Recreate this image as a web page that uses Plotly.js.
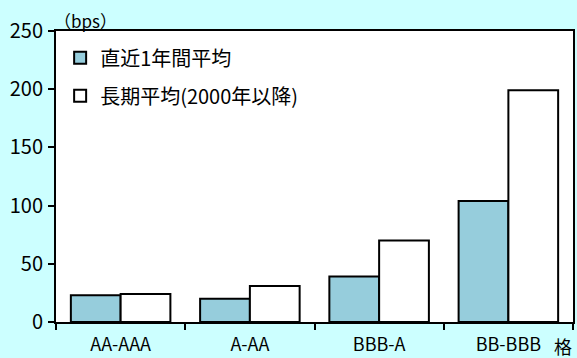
<!DOCTYPE html>
<html><head><meta charset="utf-8">
<script src="https://cdn.plot.ly/plotly-3.0.1.min.js"></script>
<style>body{margin:0;background:#ccffff}</style>
</head><body>
<div id="chart" style="width:577px;height:358px"></div>
<script>
const categories = ["AA-AAA", "A-AA", "BBB-A", "BB-BBB"];
const recentAvg = [23, 20, 39, 104];
const longAvg = [24, 31, 70, 199];
const seriesNames = ["直近1年間平均", "長期平均(2000年以降)"];
const yTicks = [0, 50, 100, 150, 200, 250];

const font = "'Noto Sans CJK JP', 'Liberation Sans', sans-serif";
const traces = [
  {type: "bar", x: categories, y: recentAvg, name: seriesNames[0], legendgroup: "a",
   marker: {color: "#96cddc", line: {color: "#000", width: 2}}},
  {type: "bar", x: categories, y: longAvg, name: seriesNames[1], legendgroup: "b",
   marker: {color: "#ffffff", line: {color: "#000", width: 2}}}
];
const layout = {
  width: 577, height: 358,
  paper_bgcolor: "#ccffff", plot_bgcolor: "#ffffff",
  margin: {l: 56, r: 4, t: 31, b: 36},
  barmode: "group", bargap: 0.23, bargroupgap: 0,
  font: {family: font, color: "#000", size: 16},
  showlegend: true,
  legend: {x: 0.008, y: 0.975, xanchor: "left", yanchor: "top", bgcolor: "rgba(0,0,0,0)",
           font: {size: 20}, tracegroupgap: 9, itemwidth: 30},
  xaxis: {showline: true, linecolor: "#000", linewidth: 2, mirror: true,
          ticks: "outside", tickson: "boundaries", ticklen: 6, tickwidth: 2, tickcolor: "#000",
          tickfont: {size: 18}, ticklabelstandoff: 5, showgrid: false, zeroline: false},
  yaxis: {range: [0, 250], tickvals: yTicks, showline: true, linecolor: "#000", linewidth: 2, mirror: true,
          ticks: "outside", ticklen: 6, tickwidth: 2, tickcolor: "#000",
          tickfont: {size: 20}, ticklabelstandoff: 1, showgrid: false, zeroline: false},
  annotations: [
    {text: "（bps）", xref: "paper", yref: "paper", x: 0.0, y: 1.0, xanchor: "left", yanchor: "bottom",
     showarrow: false, font: {size: 17}, xshift: -4, yshift: -4},
    {text: "格", xref: "paper", yref: "paper", x: 1.0, y: 0, xanchor: "right", yanchor: "top",
     showarrow: false, font: {size: 18}, yshift: -9, xshift: 1}
  ]
};
Plotly.newPlot("chart", traces, layout, {displayModeBar: false, staticPlot: true});
</script>
</body></html>
